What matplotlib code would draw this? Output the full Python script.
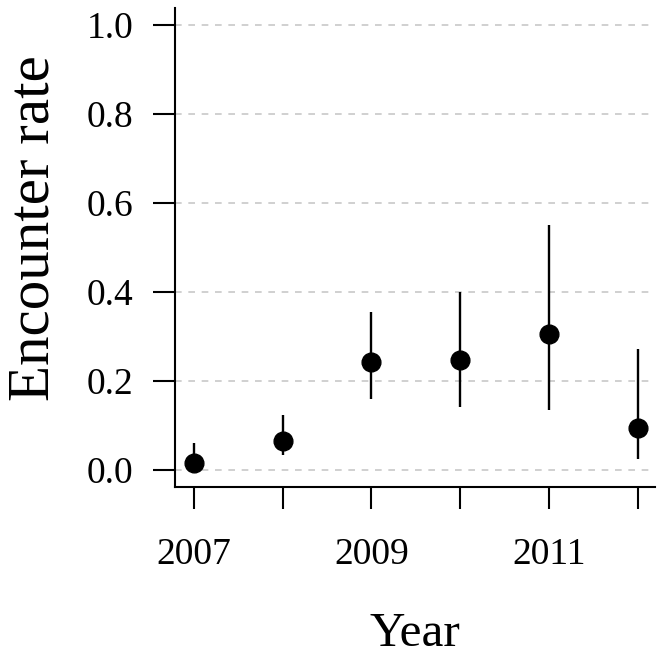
import matplotlib
matplotlib.use("Agg")
import matplotlib.pyplot as plt
import numpy as np

years = [2007, 2008, 2009, 2010, 2011, 2012]
rate = [0.015, 0.065, 0.243, 0.247, 0.306, 0.094]
lower = [0.001, 0.034, 0.159, 0.141, 0.136, 0.026]
upper = [0.061, 0.124, 0.356, 0.400, 0.551, 0.271]
xtick_labels = ["2007", "", "2009", "", "2011", ""]
yticks = [0.0, 0.2, 0.4, 0.6, 0.8, 1.0]

plt.rcParams['font.family'] = ['Liberation Serif', 'DejaVu Serif']

W, H = 664, 657
fig = plt.figure(figsize=(W / 100, H / 100), dpi=100)
ax = fig.add_axes([175 / W, (H - 487) / H, 480 / W, 479 / H])

for y in yticks:
    ax.axhline(y, color='#c8c8c8', lw=1.2, ls=(0, (4, 4)), zorder=0)

for x, lo, hi in zip(years, lower, upper):
    ax.plot([x, x], [lo, hi], color='black', lw=1.7, solid_capstyle='butt', zorder=2)
ax.plot(years, rate, 'o', color='black', markersize=13.5, zorder=3)

ax.set_xlim(2006.79, 2012.19)
ax.set_ylim(-0.038, 1.038)
ax.set_xticks(years)
ax.set_xticklabels(xtick_labels)
ax.set_yticks(yticks)
ax.set_yticklabels([f"{v:.1f}" for v in yticks])

for s in ['top', 'right']:
    ax.spines[s].set_visible(False)
for s in ['left', 'bottom']:
    ax.spines[s].set_linewidth(1.5)

ax.tick_params(axis='both', length=16, width=1.5, labelsize=27)
ax.tick_params(axis='x', pad=20.5)
ax.tick_params(axis='y', pad=14)

ax.set_ylabel("Encounter rate", fontsize=42.5)
ax.yaxis.set_label_coords(-0.236, 0.54)
ax.set_xlabel("Year", fontsize=35.5)
ax.xaxis.set_label_coords(0.5, -0.2605)

fig.savefig("out.png", dpi=100)
